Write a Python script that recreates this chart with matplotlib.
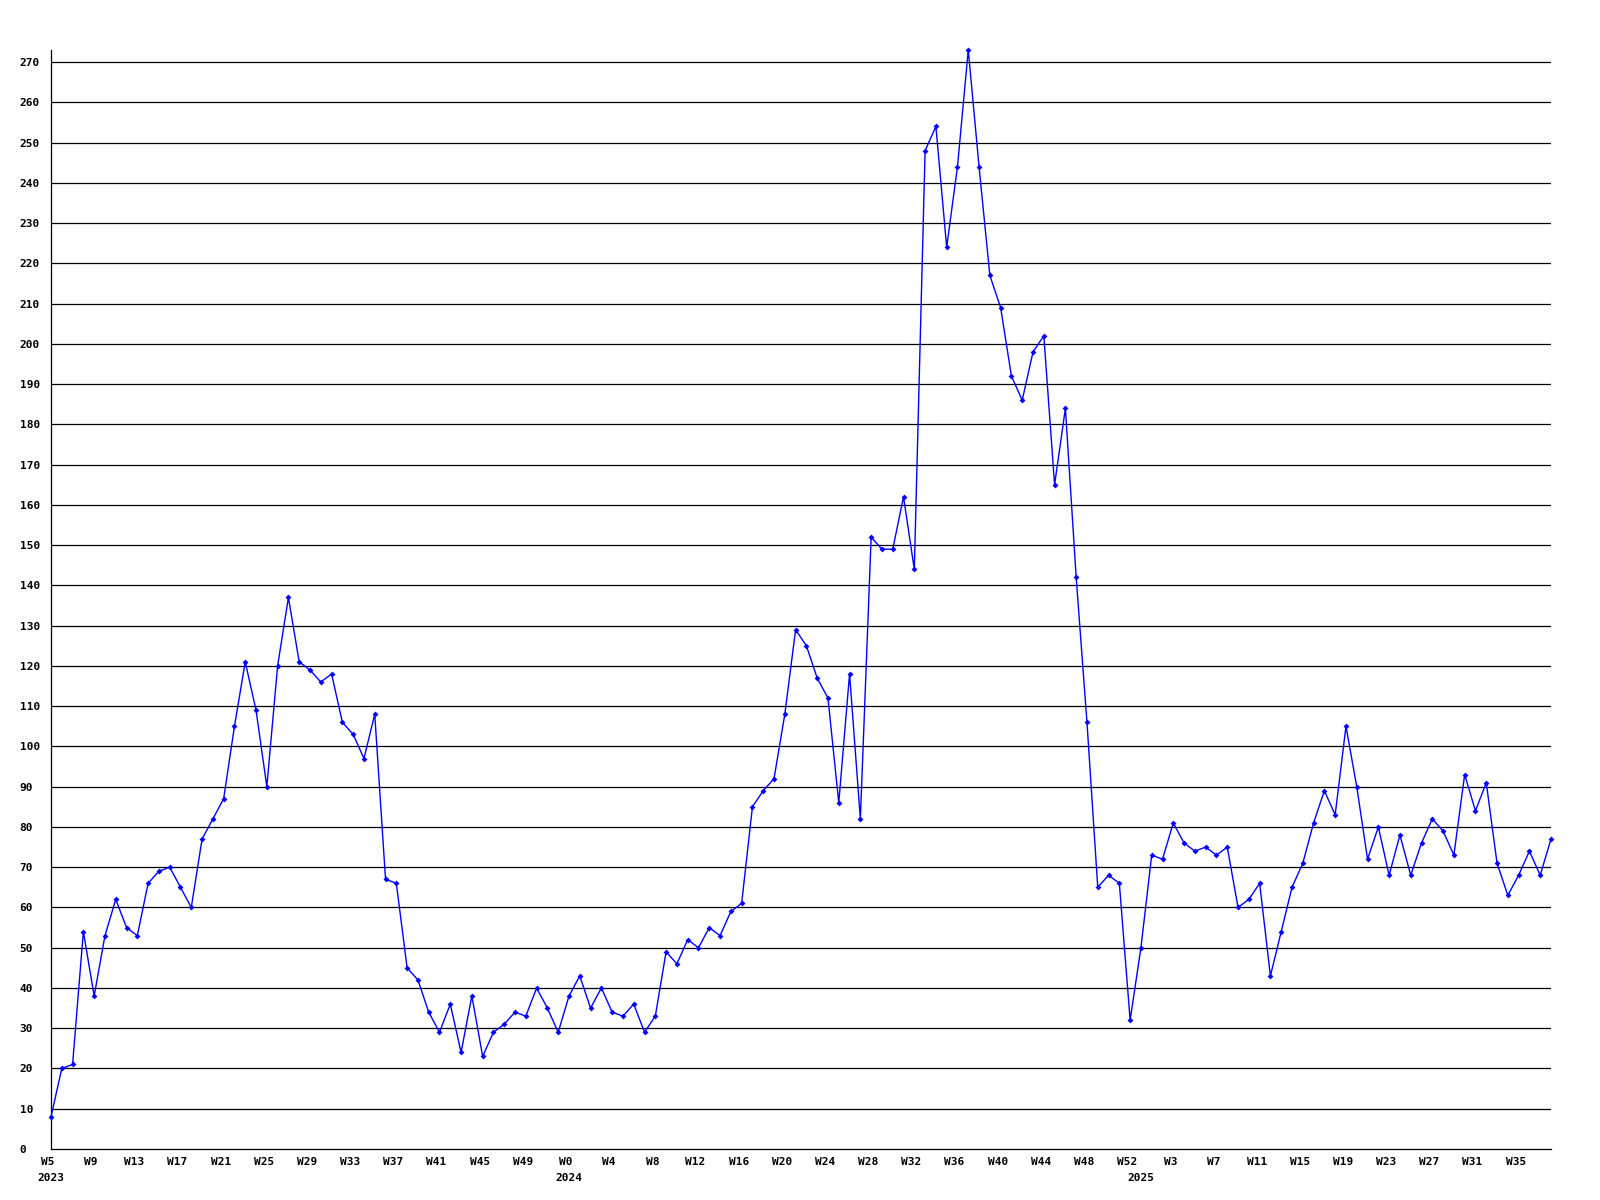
import matplotlib
matplotlib.use("Agg")
import matplotlib.pyplot as plt
import matplotlib.transforms as mtransforms

# weekly counts, one list per calendar year
counts_2023 = [8, 20, 21, 54, 38, 53, 62, 55, 53, 66, 69, 70, 65, 60, 77, 82,
               87, 105, 121, 109, 90, 120, 137, 121, 119, 116, 118, 106, 103,
               97, 108, 67, 66, 45, 42, 34, 29, 36, 24, 38, 23, 29, 31, 34, 33,
               40, 35, 29]
counts_2024 = [38, 43, 35, 40, 34, 33, 36, 29, 33, 49, 46, 52, 50, 55, 53, 59,
               61, 85, 89, 92, 108, 129, 125, 117, 112, 86, 118, 82, 152, 149,
               149, 162, 144, 248, 254, 224, 244, 273, 244, 217, 209, 192, 186,
               198, 202, 165, 184, 142, 106, 65, 68, 66, 32]
counts_2025 = [50, 73, 72, 81, 76, 74, 75, 73, 75, 60, 62, 66, 43, 54, 65, 71,
               81, 89, 83, 105, 90, 72, 80, 68, 78, 68, 76, 82, 79, 73, 93, 84,
               91, 71, 63, 68, 74, 68, 77]

weeks_2023 = [f"W{w}" for w in range(5, 53)]
weeks_2024 = [f"W{w}" for w in range(0, 53)]
weeks_2025 = [f"W{w}" for w in range(0, 39)]
years = ["2023", "2024", "2025"]

counts = counts_2023 + counts_2024 + counts_2025
weeks = weeks_2023 + weeks_2024 + weeks_2025
x = list(range(len(counts)))
year_starts = [0, len(counts_2023), len(counts_2023) + len(counts_2024)]

font = dict(family="DejaVu Sans Mono", weight="bold", size=8)

fig = plt.figure(figsize=(16, 12), dpi=100)
ax = fig.add_axes([51 / 1600, 1 - 1149 / 1200, 1500 / 1600, 1099 / 1200])

ax.plot(x, counts, color="#0000ff", lw=1.0, marker="D", ms=3,
        markeredgewidth=0, zorder=3, clip_on=False)

ax.set_xlim(0, len(counts) - 1)
ax.set_ylim(0, max(counts))

yt = list(range(0, 271, 10))
ax.set_yticks(yt)
ax.set_yticklabels([str(v) for v in yt], **font)
for lab in ax.get_yticklabels():
    lab.set_horizontalalignment("left")
ax.tick_params(axis="y", length=0, pad=22.5)
for v in yt[1:]:
    ax.axhline(v, color="black", lw=0.9, zorder=1)

ax.set_xticks(x[::4])
ax.set_xticklabels(weeks[::4], **font)
ax.tick_params(axis="x", length=0, pad=6)
shift = mtransforms.ScaledTranslation(-3 / 100, 0, fig.dpi_scale_trans)
for lab in ax.get_xticklabels():
    lab.set_transform(lab.get_transform() + shift)

for xs, yr in zip(year_starts, years):
    ax.annotate(yr, (xs, 0), xycoords=("data", "axes fraction"),
                xytext=(0, -17.5), textcoords="offset points",
                ha="center", va="top", **font)

for side in ("top", "right"):
    ax.spines[side].set_visible(False)
ax.spines["left"].set_linewidth(0.9)
ax.spines["bottom"].set_linewidth(0.9)

fig.savefig("out.png", dpi=100, facecolor="white")
